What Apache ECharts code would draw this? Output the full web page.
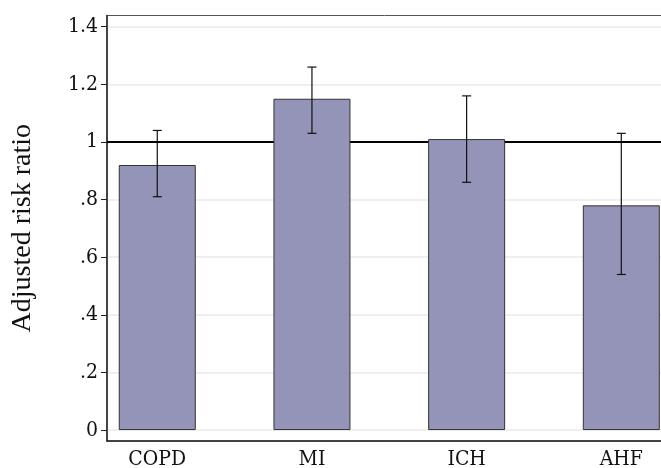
<!DOCTYPE html>
<html>
<head>
<meta charset="utf-8">
<script src="https://cdn.jsdelivr.net/npm/echarts@6/dist/echarts.min.js"></script>
<style>html,body{margin:0;padding:0;background:#fff}#c{width:661px;height:468px}</style>
</head>
<body>
<div id="c"></div>
<script>
var categories = ['COPD', 'MI', 'ICH', 'AHF'];
var ratios = [0.92, 1.15, 1.01, 0.78];
var lower = [0.81, 1.03, 0.86, 0.54];
var upper = [1.04, 1.26, 1.16, 1.03];
var yTicks = [0, 0.2, 0.4, 0.6, 0.8, 1, 1.2, 1.4];
var yTickLabels = ['0', '.2', '.4', '.6', '.8', '1', '1.2', '1.4'];
var referenceValue = 1;

var positions = categories.map(function (c, i) { return i + 1; });
var barData = ratios.map(function (v, i) { return [positions[i], v]; });
var errData = ratios.map(function (v, i) { return [positions[i], lower[i], upper[i]]; });

var chart = echarts.init(document.getElementById('c'));
var tickFont = 'DejaVu Serif Condensed';
chart.setOption({
  animation: false,
  grid: { left: 107, top: 15.5, right: -3, bottom: 27, show: true, borderColor: '#555', borderWidth: 1, backgroundColor: 'transparent', containLabel: false, outerBoundsMode: 'none' },
  xAxis: {
    type: 'value', min: 0.675, max: 4.276,
    splitLine: { show: false },
    axisLine: { show: true, onZero: false, lineStyle: { color: '#222', width: 1.5 } },
    axisTick: { show: false },
    axisLabel: {
      customValues: positions,
      formatter: function (v) { return categories[Math.round(v) - 1] || ''; },
      color: '#111', fontFamily: tickFont, fontSize: 21, margin: 8
    }
  },
  yAxis: {
    type: 'value', min: -0.038, max: 1.439,
    name: 'Adjusted risk ratio', nameLocation: 'middle', nameGap: 70,
    nameTextStyle: { fontFamily: 'Liberation Serif', fontSize: 28, color: '#111' },
    splitLine: { show: false },
    axisLine: { show: true, onZero: false, lineStyle: { color: '#222', width: 1.5 } },
    axisTick: { show: true, customValues: yTicks, length: 6, lineStyle: { color: '#222', width: 1 } },
    axisLabel: {
      customValues: yTicks,
      formatter: function (v) { var i = yTicks.findIndex(function (t) { return Math.abs(t - v) < 1e-6; }); return i >= 0 ? yTickLabels[i] : ''; },
      color: '#111', fontFamily: tickFont, fontSize: 21, margin: 9
    }
  },
  series: [
    {
      type: 'line', data: [], silent: true, z: 0,
      markLine: {
        silent: true, symbol: 'none', label: { show: false }, z: 0,
        lineStyle: { color: '#eaeaea', width: 1.5, type: 'solid', opacity: 1 },
        emphasis: { disabled: true },
        data: yTicks.filter(function (t) { return t !== referenceValue; }).map(function (t) { return { yAxis: t }; })
      }
    },
    {
      type: 'line', data: [], silent: true, z: 1,
      markLine: {
        silent: true, symbol: 'none', label: { show: false }, z: 1,
        lineStyle: { color: '#000', width: 1.8, type: 'solid', opacity: 1 },
        emphasis: { disabled: true },
        data: [{ yAxis: referenceValue }]
      }
    },
    {
      type: 'bar', data: barData, barWidth: 77, z: 3,
      itemStyle: { color: '#9494b8', borderColor: '#333', borderWidth: 1 }
    },
    {
      type: 'custom', z: 5, data: errData,
      renderItem: function (params, api) {
        var x = api.value(0);
        var lo = api.coord([x, api.value(1)]);
        var hi = api.coord([x, api.value(2)]);
        var cap = 4.5;
        var st = { stroke: '#111', lineWidth: 1.2 };
        return {
          type: 'group', children: [
            { type: 'line', shape: { x1: lo[0], y1: lo[1], x2: hi[0], y2: hi[1] }, style: st },
            { type: 'line', shape: { x1: lo[0] - cap, y1: lo[1], x2: lo[0] + cap, y2: lo[1] }, style: st },
            { type: 'line', shape: { x1: hi[0] - cap, y1: hi[1], x2: hi[0] + cap, y2: hi[1] }, style: st }
          ]
        };
      }
    }
  ]
});
</script>
</body>
</html>
